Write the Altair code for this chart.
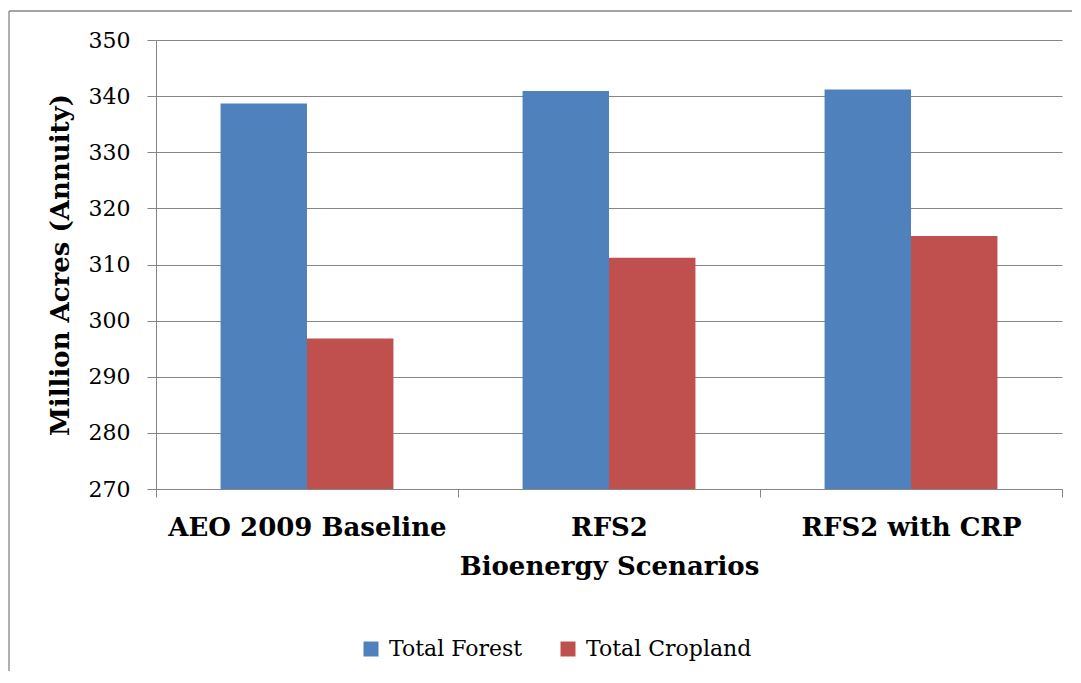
import altair as alt
import pandas as pd

scenarios = ["AEO 2009 Baseline", "RFS2", "RFS2 with CRP"]
series = ["Total Forest", "Total Cropland"]
forest = [338.7, 340.9, 341.2]
cropland = [296.8, 311.2, 315.1]
y_ticks = [270, 280, 290, 300, 310, 320, 330, 340, 350]
colors = ["#4F81BD", "#C0504D"]

rows = []
for i, s in enumerate(scenarios):
    rows.append({"Scenario": s, "Series": series[0], "Value": forest[i]})
    rows.append({"Scenario": s, "Series": series[1], "Value": cropland[i]})
df = pd.DataFrame(rows)

W, H = 906, 449
FONT = "DejaVu Serif"
GRAY = "#868686"

bars = alt.Chart(df).mark_bar().encode(
    x=alt.X(
        "Scenario:N",
        sort=scenarios,
        scale=alt.Scale(paddingInner=0, paddingOuter=0),
        axis=alt.Axis(
            title="Bioenergy Scenarios",
            labelAngle=0,
            labelLimit=0,
            tickBand="extent",
            grid=False,
            domainColor=GRAY,
            tickColor=GRAY,
            tickSize=8,
            labelFont=FONT,
            labelFontSize=26,
            labelFontWeight="bold",
            labelColor="black",
            labelPadding=17,
            titleFont=FONT,
            titleFontSize=26,
            titleFontWeight="bold",
            titleColor="black",
            titlePadding=13,
        ),
    ),
    xOffset=alt.XOffset(
        "Series:N", sort=series, scale=alt.Scale(paddingInner=0, paddingOuter=0.747)
    ),
    y=alt.Y(
        "Value:Q",
        scale=alt.Scale(domain=[270, 350], nice=False, zero=False),
        axis=alt.Axis(
            values=y_ticks,
            title="Million Acres (Annuity)",
            grid=True,
            gridColor=GRAY,
            gridWidth=1.2,
            domainColor=GRAY,
            tickColor=GRAY,
            tickSize=9,
            labelFont=FONT,
            labelFontSize=22,
            labelColor="black",
            labelPadding=17,
            titleFont=FONT,
            titleFontSize=26,
            titleFontWeight="bold",
            titleColor="black",
            titlePadding=15,
        ),
    ),
    y2=alt.datum(270),
    color=alt.Color(
        "Series:N",
        sort=series,
        scale=alt.Scale(domain=series, range=colors),
        legend=alt.Legend(
            title=None,
            orient="none",
            legendX=204,
            legendY=598,
            direction="horizontal",
            symbolType="square",
            symbolSize=225,
            symbolStrokeWidth=0,
            symbolOpacity=1,
            labelFont=FONT,
            labelFontSize=22,
            labelColor="black",
            labelLimit=0,
            labelOffset=7,
            columnPadding=34,
        ),
    ),
)

frame_data = pd.DataFrame({"k": [0]})
top_edge = alt.Chart(frame_data).mark_rule(color=GRAY, strokeWidth=1.3).encode(
    x=alt.value(-147), x2=alt.value(W + 20), y=alt.value(-29)
)
left_edge = alt.Chart(frame_data).mark_rule(color=GRAY, strokeWidth=1.3).encode(
    x=alt.value(-147), y=alt.value(-29), y2=alt.value(H + 200)
)

chart = (
    alt.layer(bars, top_edge, left_edge)
    .properties(
        width=W,
        height=H,
        autosize=alt.AutoSizeParams(type="none"),
        padding={"left": 148, "top": 32, "right": 10, "bottom": 182},
    )
    .configure_view(stroke=None)
)

chart.save("out.html", embed_options={"renderer": "svg", "actions": False})
